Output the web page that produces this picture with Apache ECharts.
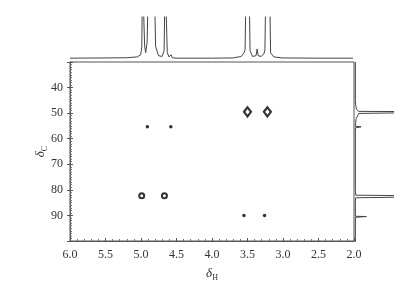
<!DOCTYPE html>
<html><head><meta charset="utf-8">
<script src="https://cdn.jsdelivr.net/npm/echarts@6/dist/echarts.min.js"></script>
<style>html,body{margin:0;padding:0;background:#fff}#c{width:409px;height:287px}</style>
</head><body><div id="c"></div>
<script>
// Cross peaks [deltaH, deltaC]
var filledPeaks = [[4.91, 55.3], [4.58, 55.3], [3.55, 90.0], [3.26, 90.0]];
var ringPeaks = [[4.99, 82.3], [4.67, 82.3]];
var diamondPeaks = [[3.50, 49.5], [3.22, 49.5]];
// 1H projection trace [deltaH, intensity] (clipped at 100)
var protonTrace = [[6.0,2],[5.5,2.5],[5.2,3],[5.05,5],[5.0,10],[4.985,30],[4.975,200],[4.96,200],[4.945,30],[4.93,15],[4.91,40],[4.89,200],[4.81,200],[4.79,30],[4.75,8],[4.70,6],[4.67,20],[4.655,200],[4.64,200],[4.625,15],[4.6,5],[4.57,10],[4.555,3],[4.5,2],[4.0,2],[3.7,2.5],[3.58,6],[3.54,15],[3.525,22],[3.51,200],[3.47,200],[3.455,20],[3.42,6],[3.37,8],[3.355,24],[3.34,8],[3.30,6],[3.26,12],[3.245,22],[3.23,200],[3.18,200],[3.165,15],[3.12,5],[3.0,2.5],[2.5,2],[2.2,2],[2.19,4],[2.18,2],[2.0,2]];
// 13C projection trace [intensity, deltaC]
var carbonTrace = [[1,30],[1,45],[2,47],[4,48.5],[10,49.2],[300,49.4],[300,49.7],[10,50],[6,50.5],[3,52],[1.5,54],[1,55.0],[16,55.2],[16,55.4],[1,55.6],[1,80],[2,81.8],[300,82.2],[300,82.5],[2,82.8],[1,84],[1,90.0],[30,90.1],[30,90.3],[1,90.4],[1,100]];
var xTicks = {min: 2, max: 6, interval: 0.5};
var yTicks = {min: 30, max: 100, interval: 10};

var serif = 'Liberation Serif';
var lineCol = '#444';
var chart = echarts.init(document.getElementById('c'));
chart.setOption({
  animation: false,
  grid: [
    {left: 70, right: 55, top: 62, bottom: 45, show: true, borderColor: '#555', borderWidth: 1, backgroundColor: 'transparent'},
    {left: 70, width: 283, top: 17, height: 42},
    {left: 355, width: 38, top: 62, bottom: 45}
  ],
  xAxis: [
    {gridIndex: 0, type: 'value', inverse: true, min: xTicks.min, max: xTicks.max, interval: xTicks.interval,
     axisLine: {show: true, lineStyle: {color: '#555'}},
     axisTick: {show: true, inside: true, length: 3, lineStyle: {color: '#555'}},
     minorTick: {show: true, splitNumber: 5, length: 2, lineStyle: {color: '#777'}},
     splitLine: {show: false},
     axisLabel: {fontFamily: serif, fontSize: 12, color: '#333', margin: 8, formatter: function(v){return v.toFixed(1);}},
     name: '{d|δ}{s|H}', nameLocation: 'middle', nameGap: 25, nameMoveOverlap: false,
     nameTextStyle: {rich: {d: {fontFamily: serif, fontSize: 13, fontStyle: 'italic', color: '#333'}, s: {fontFamily: serif, fontSize: 8, color: '#333', padding: [8, 0, 0, 0]}}}},
    {gridIndex: 1, type: 'value', inverse: true, min: xTicks.min, max: xTicks.max, show: false},
    {gridIndex: 2, type: 'value', min: 0, max: 100, show: false}
  ],
  yAxis: [
    {gridIndex: 0, type: 'value', inverse: true, min: yTicks.min, max: yTicks.max, interval: yTicks.interval,
     axisLine: {show: true, lineStyle: {color: '#555'}},
     axisTick: {show: true, inside: true, length: 3, lineStyle: {color: '#555'}},
     minorTick: {show: true, splitNumber: 10, length: 2, lineStyle: {color: '#777'}},
     splitLine: {show: false},
     axisLabel: {fontFamily: serif, fontSize: 12, color: '#333', margin: 7, showMinLabel: false, showMaxLabel: false},
     name: '{d|δ}{s|C}', nameLocation: 'middle', nameGap: 21, nameRotate: 90, nameMoveOverlap: false,
     nameTextStyle: {rich: {d: {fontFamily: serif, fontSize: 13, fontStyle: 'italic', color: '#333'}, s: {fontFamily: serif, fontSize: 8, color: '#333', padding: [8, 0, 0, 0]}}}},
    {gridIndex: 0, type: 'value', inverse: true, min: yTicks.min, max: yTicks.max, interval: yTicks.interval, position: 'left', offset: 0,
     axisLine: {show: false}, axisTick: {show: true, inside: false, length: 3, lineStyle: {color: '#555'}},
     axisLabel: {show: false}, splitLine: {show: false}},
    {gridIndex: 1, type: 'value', min: 0, max: 100, show: false},
    {gridIndex: 2, type: 'value', inverse: true, min: yTicks.min, max: yTicks.max, show: false}
  ],
  series: [
    {type: 'scatter', xAxisIndex: 0, yAxisIndex: 0, data: filledPeaks, symbol: 'circle', symbolSize: 3.5, itemStyle: {color: '#000'}},
    {type: 'scatter', xAxisIndex: 0, yAxisIndex: 0, data: ringPeaks, symbol: 'circle', symbolSize: 5, itemStyle: {color: '#fff', borderColor: '#000', borderWidth: 2}},
    {type: 'scatter', xAxisIndex: 0, yAxisIndex: 0, data: diamondPeaks, symbol: 'diamond', symbolSize: [7, 9], itemStyle: {color: '#fff', borderColor: '#000', borderWidth: 2.2}},
    {type: 'line', xAxisIndex: 1, yAxisIndex: 2, data: protonTrace, showSymbol: false, symbol: 'none', clip: true, lineStyle: {color: lineCol, width: 1}},
    {type: 'line', xAxisIndex: 2, yAxisIndex: 3, data: carbonTrace, showSymbol: false, symbol: 'none', clip: true, lineStyle: {color: lineCol, width: 1}}
  ]
});
</script></body></html>
